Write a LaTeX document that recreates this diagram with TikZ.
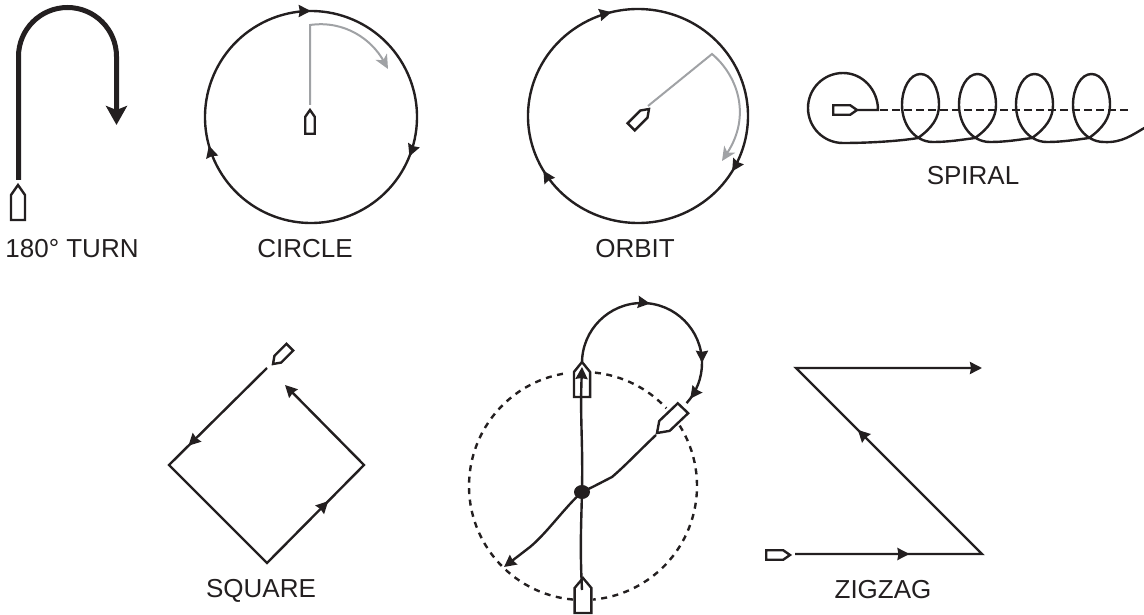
\documentclass[tikz,border=0pt]{standalone}
\usepackage{fontspec}
\setmainfont{Liberation Sans}
\usetikzlibrary{arrows.meta,decorations.markings,shapes.geometric}
\definecolor{ink}{HTML}{231F20}
\definecolor{ash}{HTML}{A0A2A5}
\begin{document}
\begin{tikzpicture}[x=1pt,y=1pt,>={Stealth[length=12pt,width=12pt,inset=1pt]},
    track/.style={draw=ink,line width=2.4pt},
    course/.style={draw=ash,line width=2pt,-{Stealth[length=14pt,width=13pt,inset=4pt]}},
    tag/.style={text=ink,font=\fontsize{26}{28}\selectfont,inner sep=0pt,anchor=base},
    onpath/.style={postaction={decorate,decoration={markings,
        mark=at position #1 with {\arrow[ink]{>}}}}},
    boat/.pic={\draw[draw=ink,line width=2.4pt] (0,0)--(7,-10)--(7,-35)--(-7,-35)--(-7,-10)--cycle;}]
  \useasboundingbox (0,0) rectangle (1144,-615);
  % 180 turn
  \coordinate (turnA) at (18.5,-180);
  \coordinate (turnB) at (116.5,-125);
  \draw[draw=ink,line width=5pt,-{Stealth[length=19pt,width=21pt,inset=4pt]}]
    (turnA) -- (18.5,-56.5) arc[start angle=180,end angle=0,radius=49] -- (turnB);
  \pic at (18,-185) {boat};
  \node[tag] (turnlabel) at (72,-257) {180° TURN};
  % circle
  \draw[track,onpath=.083,onpath=.394,onpath=.79]
    (311,-117) ++(120:106) arc[start angle=120,end angle=-240,radius=106];
  \coordinate (circleA) at (310,-105);
  \coordinate (circleB) at (388,-69);
  \draw[course] (circleA) -- (310,-25) .. controls (345,-20) and (372,-40) .. (circleB);
  \pic[scale=.68] at (310,-110) {boat};
  \node[tag] (circlelabel) at (305,-257) {CIRCLE};
  % orbit
  \draw[track,onpath=.045,onpath=.42,onpath=.75]
    (638,-116) ++(120:110 and 107) arc[start angle=120,end angle=-240,x radius=110,y radius=107];
  \coordinate (orbitA) at (648,-106);
  \coordinate (orbitB) at (712,-54);
  \coordinate (orbitC) at (722,-161);
  \draw[course] (orbitA) -- (orbitB) .. controls (737,-75) and (752,-115) .. (orbitC);
  \pic[scale=.72,rotate=-45] at (649,-109) {boat};
  \node[tag] (orbitlabel) at (635,-257) {ORBIT};
  % spiral
  \pic[scale=.68,rotate=-90] at (857,-110) {boat};
  \coordinate (spiralA) at (857,-110);
  \coordinate (spiralB) at (878,-110);
  \coordinate (spiralC) at (1132,-110);
  \draw[track,line cap=round] (spiralA) -- (spiralB) to[out=90,in=0] (843,-73) to[out=180,in=90] (808,-108)
    to[out=-90,in=180] (843,-143) .. controls (870,-143) and (900,-141) .. (918,-138);
  \foreach \loopx in {0,57,114,171} {
    \begin{scope}[xshift=\loopx pt]
      \draw[track,line cap=round] (918,-138) .. controls (932,-128) and (939,-118) .. (939,-105)
        .. controls (939,-88) and (931,-74) .. (920.5,-74)
        .. controls (910,-74) and (902,-88) .. (902,-105)
        .. controls (902,-125) and (915,-142) .. (933,-142);
    \end{scope}
  }
  \foreach \loopx in {0,57,114} {
    \begin{scope}[xshift=\loopx pt]
      \draw[track,line cap=round] (933,-142) .. controls (948,-142) and (960,-140) .. (975,-138);
    \end{scope}
  }
  \draw[track,line cap=round] (1104,-142) .. controls (1122,-143) and (1132,-135) .. (1146,-127);
  \draw[track,dash pattern=on 7.5pt off 4.5pt] (880,-110) -- (spiralC);
  \node[tag] (spirallabel) at (973,-185) {SPIRAL};
  % square
  \coordinate (squareT) at (267,-368);
  \coordinate (squareL) at (169,-465);
  \coordinate (squareB) at (267,-563);
  \coordinate (squareR) at (364,-465);
  \coordinate (squareE) at (285,-385);
  \draw[track,onpath=.21,onpath=.69,->] (squareT) -- (squareL) -- (squareB) -- (squareR)
    -- (squareE);
  \pic[scale=.68,rotate=135] at (273,-364) {boat};
  \node[tag] (squarelabel) at (261,-597) {SQUARE};
  % figure of eight
  \draw[track,dash pattern=on 6pt off 5.5pt] (583,-486) ++(84:114)
    arc[start angle=84,end angle=43,radius=114];
  \draw[track,dash pattern=on 6pt off 5.5pt] (583,-486) ++(32:114)
    arc[start angle=32,end angle=-85,radius=114];
  \draw[track,dash pattern=on 6pt off 5.5pt] (583,-486) ++(-95:114)
    arc[start angle=-95,end angle=-262,radius=114];
  \node[ellipse,fill=ink,minimum width=16pt,minimum height=14pt,inner sep=0pt] (hub) at (582,-492) {};
  \draw[track,->] (582,-590) .. controls (580,-550) and (581,-530) .. (hub.center)
    .. controls (583,-440) and (580,-420) .. (582,-367);
  \draw[track,onpath=.44,onpath=.81,onpath=.975] (642,-363) ++(180:60)
    arc[start angle=180,end angle=-42,radius=60];
  \draw[track,->] (656,-435) .. controls (640,-450) and (625,-466) .. (612,-477)
    .. controls (604,-481) and (595,-486) .. (hub.center)
    .. controls (565,-507) and (547,-533) .. (530,-547) -- (504,-567);
  \pic[xscale=1.2] at (583,-578) {boat};
  \pic[xscale=1.15] at (582,-362) {boat};
  \pic[xscale=1.05,rotate=135] at (657,-433) {boat};
  % zigzag
  \coordinate (zigA) at (795,-554);
  \coordinate (zigB) at (982,-554);
  \coordinate (zigC) at (796,-368);
  \coordinate (zigD) at (982,-368);
  \draw[track,onpath=.18,onpath=.57,->] (zigA) -- (zigB) -- (zigC) -- (zigD);
  \pic[scale=.68,rotate=-90] at (790,-555) {boat};
  \node[tag] (ziglabel) at (883,-598) {ZIGZAG};
\end{tikzpicture}
\end{document}
